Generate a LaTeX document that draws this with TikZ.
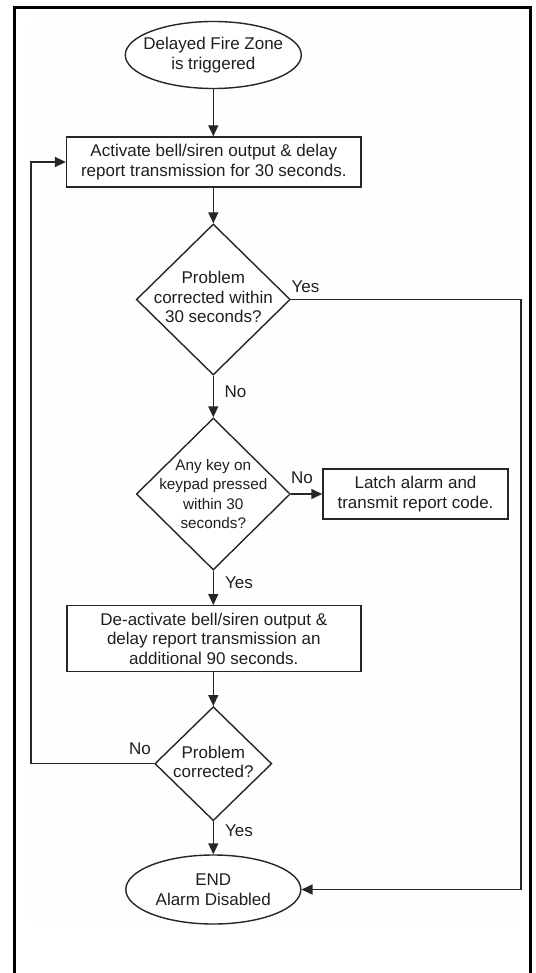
\documentclass[tikz,border=0pt]{standalone}
\usepackage{fontspec}
\setmainfont{Liberation Sans}
\usetikzlibrary{shapes.geometric,arrows.meta}
\begin{document}
\begin{tikzpicture}[x=1pt,y=-1pt,
  every node/.style={font=\fontsize{17}{19.5}\selectfont, text=black!88},
  flow/.style={line width=1.4pt, draw=black!85},
  arr/.style={flow,-{Triangle[length=11pt,width=10pt]}},
  boxnode/.style={draw=black!85, line width=1.4pt, rectangle, inner sep=0pt, align=center, fill=white},
  dia/.style={draw=black!85, line width=1.4pt, diamond, inner sep=0pt, fill=white},
  ell/.style={draw=black!85, line width=1.4pt, ellipse, inner sep=0pt, fill=white},
  lab/.style={inner sep=0pt, align=center}
]
\useasboundingbox (0,0) rectangle (535,973);
\fill[black!0.5] (30,20) rectangle (521,925);
\draw[line width=2.7pt] (14.5,973) -- (14.5,7.8) -- (530.7,7.8) -- (530.7,973);

% shapes
\node[ell, minimum width=176, minimum height=67] (start) at (213.3,55) {};
\node[lab] (startt) at (start.center) {Delayed Fire Zone\\is triggered};

\node[boxnode, minimum width=294.5, minimum height=50] (b1) at (213.8,162)
  {Activate bell/siren output \& delay\\report transmission for 30 seconds.};

\node[dia, minimum width=154, minimum height=151] (d1) at (213.3,299.5) {};
\node[lab] (d1t) at (213.3,297) {Problem\\corrected within\\30 seconds?};

\node[dia, minimum width=154, minimum height=152] (d2) at (213.3,494) {};
\node[lab, font=\fontsize{15.3}{19.5}\selectfont] (d2t) at (213.3,494)
  {Any key on\\keypad pressed\\within 30\\seconds?};

\node[boxnode, minimum width=185, minimum height=50] (latch) at (415.5,494)
  {Latch alarm and\\transmit report code.};

\node[boxnode, minimum width=294, minimum height=66] (b3) at (213.8,638.7)
  {De-activate bell/siren output \&\\delay report transmission an\\additional 90 seconds.};

\node[dia, minimum width=117, minimum height=114] (d3) at (213.3,763.7) {};
\node[lab] (d3t) at (213.3,762) {Problem\\corrected?};

\node[ell, minimum width=175, minimum height=69] (end) at (213.3,889.5) {};
\node[lab] (endt) at (end.center) {END\\Alarm Disabled};

% helper coordinates
\coordinate (rx) at (521,0);
\coordinate (lx) at (31,0);

% connectors
\draw[arr] (start.south) -- (start.south |- b1.north);
\draw[arr] (b1.south -| d1.north) -- (d1.north);
\draw[arr] (d1.south) -- (d2.north);
\draw[arr] (d2.east) -- (latch.west);
\draw[arr] (d2.south) -- (d2.south |- b3.north);
\draw[arr] (b3.south -| d3.north) -- (d3.north);
\draw[arr] (d3.south) -- (end.north);
\draw[arr] (d3.west) -- (d3.west -| lx) |- (b1.west);
\draw[arr] (d1.east) -- (d1.east -| rx) |- (end.east);

% labels
\node[lab] (ly1) at (305.5,287) {Yes};
\node[lab] (ln1) at (235.5,392) {No};
\node[lab] (ln2) at (302,478) {No};
\node[lab] (ly2) at (239,583) {Yes};
\node[lab] (ln3) at (140,749) {No};
\node[lab] (ly3) at (239,831) {Yes};
\end{tikzpicture}
\end{document}
